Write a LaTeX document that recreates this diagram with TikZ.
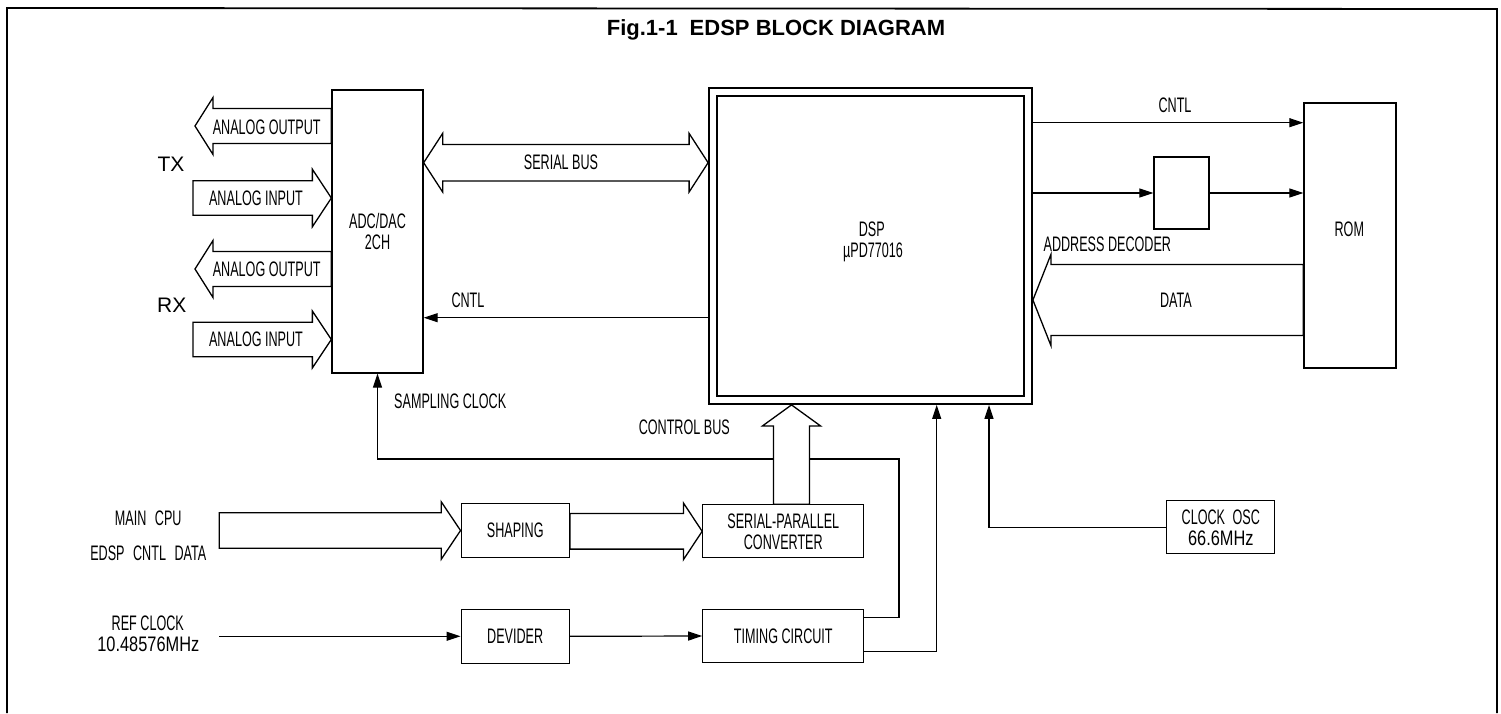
\documentclass[tikz,border=0pt]{standalone}
\usepackage{fontspec}
\setmainfont{Liberation Sans}
\newfontfamily\cond[FakeStretch=0.6]{Liberation Sans}
\newfontfamily\condw[FakeStretch=0.78]{Liberation Sans}
\usetikzlibrary{arrows.meta,calc}

% hollow bus arrows: #1 tail, #2 tip, #3 shaft half-width, #4 head half-width, #5 head length
\newcommand\busR[5]{\draw[bus] let \p1=(#1),\p2=(#2) in (\x1,\y2+#3pt) -- (\x2-#5pt,\y2+#3pt) -- (\x2-#5pt,\y2+#4pt) -- (\x2,\y2) -- (\x2-#5pt,\y2-#4pt) -- (\x2-#5pt,\y2-#3pt) -- (\x1,\y2-#3pt) -- cycle;}
\newcommand\busL[5]{\draw[bus] let \p1=(#1),\p2=(#2) in (\x1,\y2+#3pt) -- (\x2+#5pt,\y2+#3pt) -- (\x2+#5pt,\y2+#4pt) -- (\x2,\y2) -- (\x2+#5pt,\y2-#4pt) -- (\x2+#5pt,\y2-#3pt) -- (\x1,\y2-#3pt) -- cycle;}
\newcommand\busU[5]{\draw[bus] let \p1=(#1),\p2=(#2) in (\x2-#3pt,\y1) -- (\x2-#3pt,\y2-#5pt) -- (\x2-#4pt,\y2-#5pt) -- (\x2,\y2) -- (\x2+#4pt,\y2-#5pt) -- (\x2+#3pt,\y2-#5pt) -- (\x2+#3pt,\y1) -- cycle;}
\newcommand\busLR[5]{\draw[bus] let \p1=(#1),\p2=(#2) in (\x1,\y1) -- (\x1+#5pt,\y1+#4pt) -- (\x1+#5pt,\y1+#3pt) -- (\x2-#5pt,\y1+#3pt) -- (\x2-#5pt,\y1+#4pt) -- (\x2,\y1) -- (\x2-#5pt,\y1-#4pt) -- (\x2-#5pt,\y1-#3pt) -- (\x1+#5pt,\y1-#3pt) -- (\x1+#5pt,\y1-#4pt) -- cycle;}

\tikzset{
  box/.style={draw,line width=1.3pt,inner sep=0pt,align=center,font=\cond\fontsize{21}{21}\selectfont},
  lbl/.style={inner sep=0pt,anchor=base,font=\cond\fontsize{21}{21}\selectfont},
  big/.style={inner sep=0pt,anchor=base,font=\normalfont\fontsize{21}{21}\selectfont},
  arr/.style={line width=1.2pt,-{Triangle[length=14pt,width=9pt]}},
  bus/.style={draw,fill=white,line width=1.3pt,line join=miter},
  frame/.style={line width=1.8pt},
}

\begin{document}
\begin{tikzpicture}[x=1pt,y=-1pt]
\useasboundingbox (0,0) rectangle (1501,713);
\draw[frame] (7,713) -- (7,8) -- (1497,9) -- (1497,713);

% blocks
\node[box,minimum width=91pt,minimum height=283pt] (adc) at (377.5,231.5) {ADC/DAC\\2CH};
\node[box,line width=1.8pt,minimum width=323pt,minimum height=316pt] (dsp) at (870.5,246) {};
\draw[line width=1.3pt] ($(dsp.north west)+(9,9)$) rectangle ($(dsp.south east)+(-9,-9)$);
\node[box,minimum width=55pt,minimum height=72pt] (dec) at (1181.5,193) {};
\node[box,minimum width=92pt,minimum height=265pt] (rom) at (1350,235.5) {};
\node[box,minimum width=108pt,minimum height=54pt] (shp) at (515.2,530.5) {SHAPING};
\node[box,minimum width=161pt,minimum height=53pt] (spc) at (783.3,531.3) {SERIAL-PARALLEL\\CONVERTER};
\node[box,minimum width=108pt,minimum height=54pt] (dev) at (515.2,636.3) {DEVIDER};
\node[box,minimum width=161pt,minimum height=53pt] (tim) at (783.3,636) {TIMING CIRCUIT};
\node[box,minimum width=108pt,minimum height=53pt] (osc) at (1220.8,527.3) {CLOCK\hspace{4pt} OSC\\{\condw 66.6MHz}};

% free ends
\coordinate (txo) at (195,126);
\coordinate (txi) at (193,198);
\coordinate (rxo) at (195,269);
\coordinate (rxi) at (193,339.5);
\coordinate (cpu) at (219.3,530.5);
\coordinate (ref) at (219.3,636.3);
\coordinate (sck) at (899,459);

% single-line connectors
\draw[arr] ($(dsp.west)+(0,71.7)$) -- ($(adc.east)+(0,86.2)$);
\draw[arr] ($(dsp.east)+(0,-123.3)$) -- ($(rom.west)+(0,-112.8)$);
\draw[arr] (dsp.east |- dec.west) -- (dec.west);
\draw[arr] (dec.east) -- (dec.east -| rom.west);
\draw[arr] ($(tim.east)+(0,-18.3)$) -| (sck) -| (adc.south);
\draw[arr] ($(tim.east)+(0,15.7)$) -| ($(dsp.south)+(66.2,0)$);
\draw[arr] (osc.west) -| ($(dsp.south)+(118.5,0)$);
\draw[arr] (ref) -- (dev.west);
\draw[arr] (dev.east) -- (tim.west);

% buses
\busL{adc.west|-txo}{txo}{17.5}{28.5}{18}
\busR{txi}{adc.west|-txi}{17.2}{28.8}{19}
\busL{adc.west|-rxo}{rxo}{17.5}{28.5}{18}
\busR{rxi}{adc.west|-rxi}{17.2}{28.5}{19}
\busLR{$(adc.east)+(0,-68.8)$}{dsp.west}{18.3}{29.3}{19}
\busU{spc.north}{$(dsp.south)+(-79,0)$}{18}{29}{21}
\busL{rom.west}{$(dsp.east)+(0,54)$}{35.5}{45.5}{18}
\busR{cpu}{shp.west}{17.8}{28.7}{19.3}
\busR{shp.east}{spc.west}{17.8}{28.3}{18.7}

% labels
\node[inner sep=0pt,anchor=base,font=\bfseries\fontsize{22}{22}\selectfont] (ttl) at (776,35) {Fig.1-1\hspace{12pt}EDSP BLOCK DIAGRAM};
\node[big] (tx) at (171,171.5) {TX};
\node[big] (rx) at (171.7,312.5) {RX};
\node[lbl] (l1) at (266.7,134) {ANALOG OUTPUT};
\node[lbl] (l2) at (256,205) {ANALOG INPUT};
\node[lbl] (l3) at (266.7,276.7) {ANALOG OUTPUT};
\node[lbl] (l4) at (256,346.7) {ANALOG INPUT};
\node[lbl] (l5) at (561,169.3) {SERIAL BUS};
\node[lbl] (l6) at (468,307) {CNTL};
\node[lbl] (l7) at (1175,112.7) {CNTL};
\node[lbl] (l8) at (1107.3,251) {ADDRESS DECODER};
\node[lbl] (l9) at (1176,307.7) {DATA};
\node[lbl] (l10) at (1349.3,236.7) {ROM};
\node[lbl] (l11) at (871.7,236.7) {DSP};
\node[lbl] (l12) at (873,257.3) {µPD77016};
\node[lbl,anchor=base west] (l13) at (394,408.3) {SAMPLING CLOCK};
\node[lbl] (l14) at (684.3,434) {CONTROL BUS};
\node[lbl] (l15) at (148.3,525.7) {MAIN\hspace{5pt} CPU};
\node[lbl] (l16) at (148.3,560) {EDSP\hspace{5pt} CNTL\hspace{5pt} DATA};
\node[lbl] (l17) at (147.8,630) {REF CLOCK};
\node[lbl] (l18) at (148.3,651.7) {\condw 10.48576MHz};
\end{tikzpicture}
\end{document}
